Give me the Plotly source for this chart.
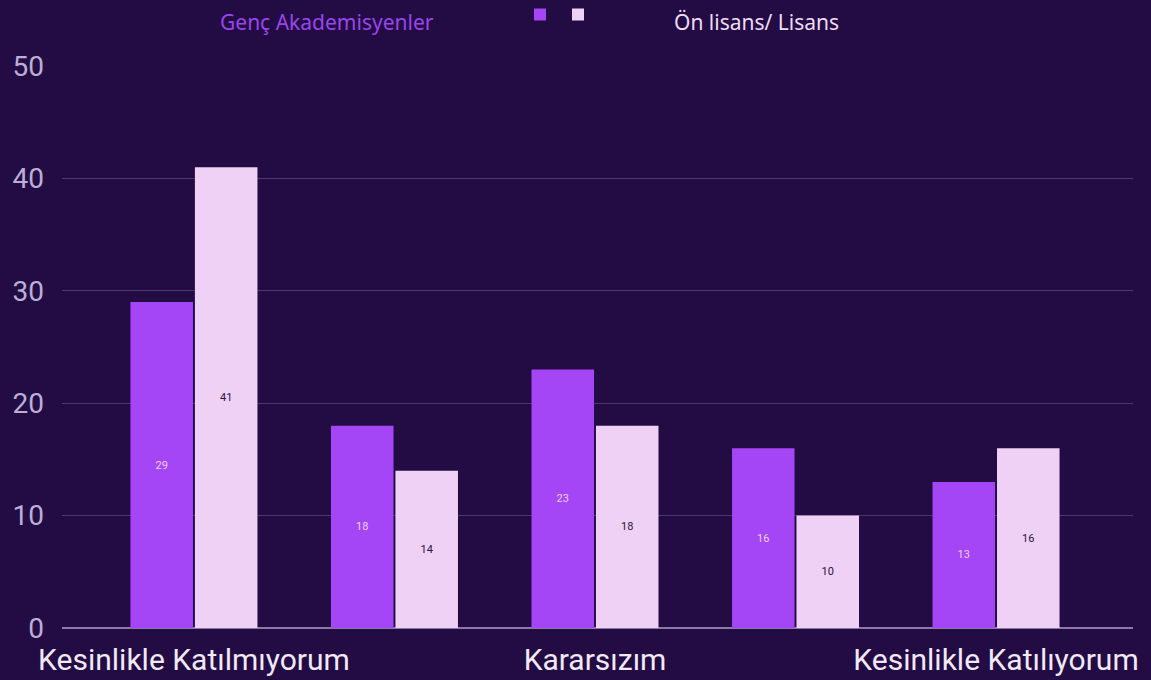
import plotly.graph_objects as go

categories = ["Kesinlikle Katılmıyorum", "Katılmıyorum", "Kararsızım", "Katılıyorum", "Kesinlikle Katılıyorum"]
shown_ticks = ["Kesinlikle Katılmıyorum", "Kararsızım", "Kesinlikle Katılıyorum"]
genc_akademisyenler = [29, 18, 23, 16, 13]
onlisans_lisans = [41, 14, 18, 10, 16]
series_names = ["Genç Akademisyenler", "Ön lisans/ Lisans"]

BG = "#220c43"
PURPLE = "#a445f6"
PINK = "#f0d1f6"

W, H = 1151, 680
ML, MR, MT, MB = 62, 18, 66, 52
pw = W - ML - MR
ph = H - MT - MB


def px_x(x):
    return (x - ML) / pw


def px_y(y):
    return 1 + (MT - y) / ph


fig = go.Figure()
fig.add_trace(go.Bar(
    x=categories, y=genc_akademisyenler, name="",
    marker=dict(color=PURPLE, line=dict(width=0)),
    text=genc_akademisyenler, textposition="inside", insidetextanchor="middle",
    textfont=dict(color=PINK, size=11, family="Roboto"), hoverinfo="y",
    legend="legend",
))
fig.add_trace(go.Bar(
    x=categories, y=onlisans_lisans, name="",
    marker=dict(color=PINK, line=dict(width=0)),
    text=onlisans_lisans, textposition="inside", insidetextanchor="middle",
    textfont=dict(color="#2a1442", size=11, family="Roboto"), hoverinfo="y",
    legend="legend2",
))

legend_common = dict(orientation="h", xanchor="left", yref="container", y=1.0, yanchor="top",
                     itemwidth=30, entrywidth=1, entrywidthmode="pixels",
                     font=dict(size=1, color=BG), bgcolor="rgba(0,0,0,0)",
                     itemclick=False, itemdoubleclick=False, visible=True)

fig.update_layout(
    width=W, height=H,
    paper_bgcolor=BG, plot_bgcolor=BG,
    margin=dict(l=ML, r=MR, t=MT, b=MB, autoexpand=False),
    barmode="group", bargap=0.357, bargroupgap=0.03,
    showlegend=True,
    legend=dict(x=520 / W, xref="container", **legend_common),
    legend2=dict(x=558 / W, xref="container", **legend_common),
    xaxis=dict(
        type="category", range=[-0.658, 4.683],
        tickmode="array", tickvals=shown_ticks, ticktext=shown_ticks,
        tickfont=dict(family="Roboto", size=30, color="#f1e9f6"),
        showgrid=False, zeroline=False, showline=False, ticks="",
        ticklabelstandoff=11, automargin=False,
    ),
    yaxis=dict(
        range=[0, 50], tickvals=[0, 10, 20, 30, 40, 50],
        tickfont=dict(family="Roboto", size=28, color="#bcaed6"),
        gridcolor="#4a3772", gridwidth=1, zeroline=True, zerolinecolor="#8b7aa8",
        zerolinewidth=1.5, ticks="", ticklabelstandoff=17, automargin=False,
    ),
    annotations=[
        dict(text=series_names[0], x=px_x(327), y=px_y(22), xref="paper", yref="paper",
             xanchor="center", yanchor="middle",
             showarrow=False, font=dict(family="Noto Sans", size=21, color="#9a45ec")),
        dict(text=series_names[1], x=px_x(756), y=px_y(22), xref="paper", yref="paper",
             xanchor="center", yanchor="middle",
             showarrow=False, font=dict(family="Noto Sans", size=21, color="#f0dcf5")),
    ],
)

fig.write_html("out.html", config={"displayModeBar": False},
               post_script="document.body.style.margin='0';document.body.style.overflow='hidden';")
